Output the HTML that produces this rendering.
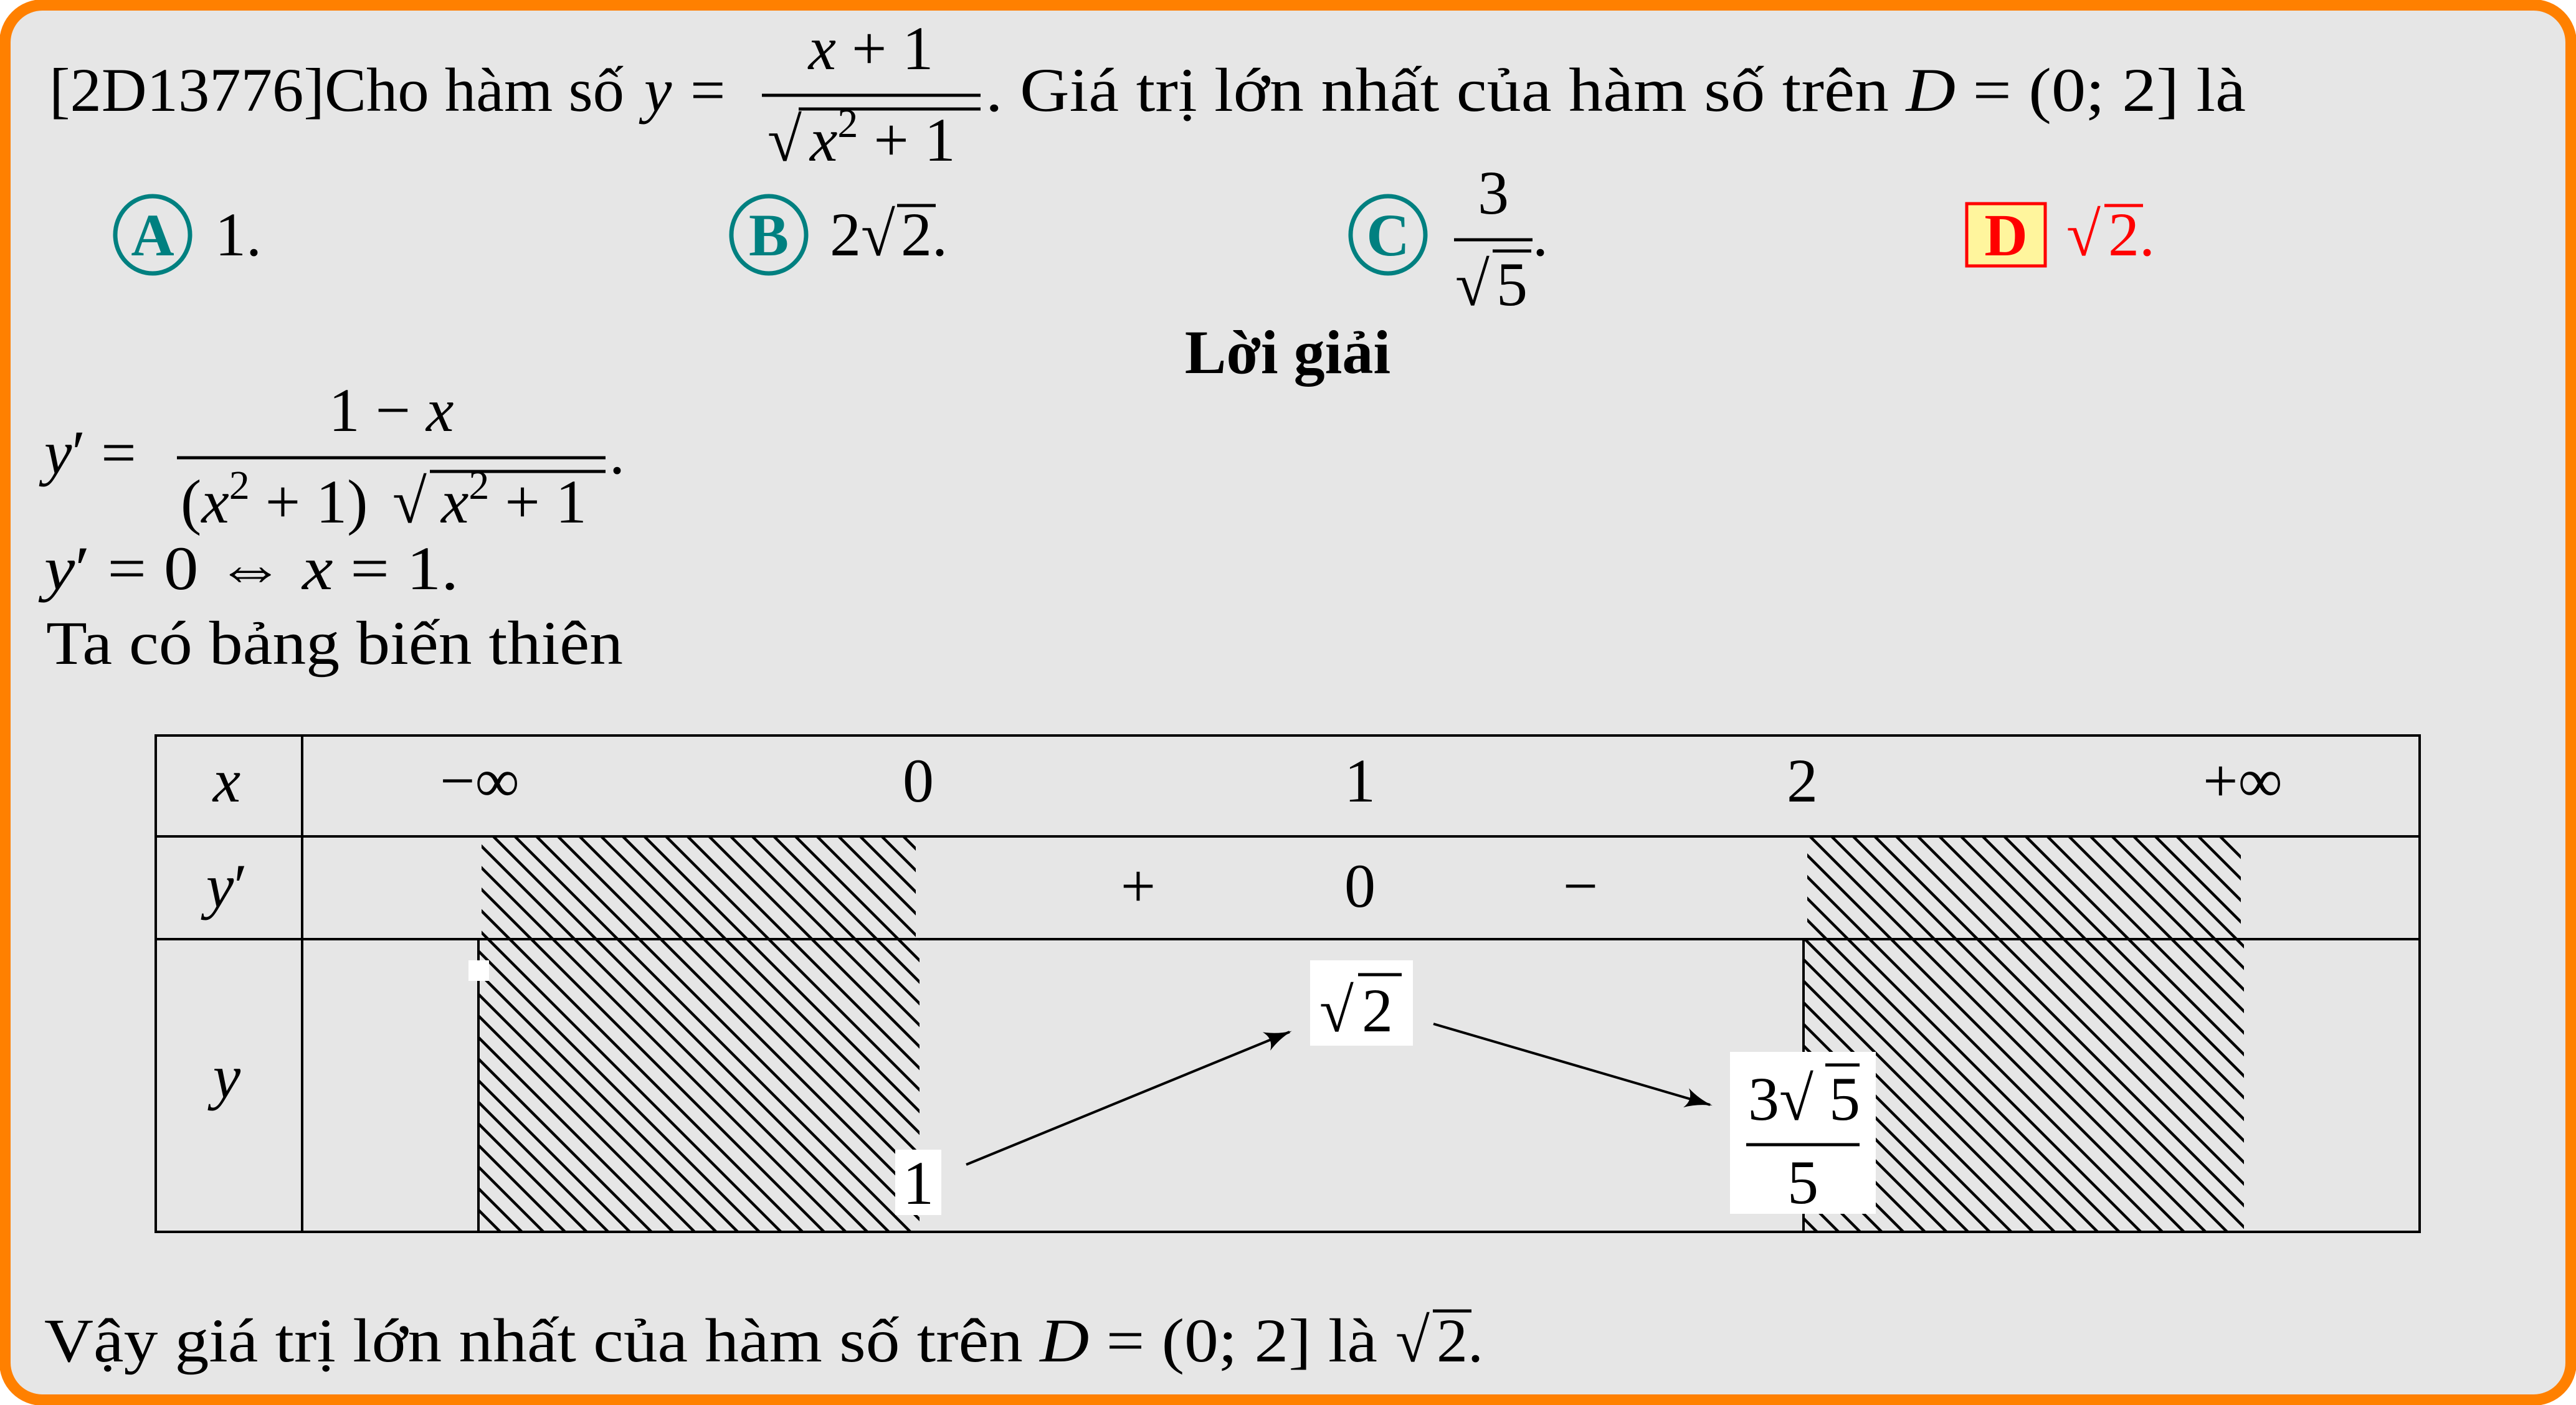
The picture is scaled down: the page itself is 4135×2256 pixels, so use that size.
<!DOCTYPE html>
<html><head><meta charset="utf-8"><style>
html,body{margin:0;padding:0;background:#fff;}
svg{display:block;}
text{font-family:"Liberation Serif",serif;fill:#000;}
.it{font-style:italic;}
</style></head><body>
<svg width="4135" height="2256" viewBox="0 0 4135 2256" xmlns="http://www.w3.org/2000/svg">
<defs>
<pattern id="hatch" patternUnits="userSpaceOnUse" width="24.5" height="24.5" patternTransform="rotate(-45)">
<rect width="24.5" height="24.5" fill="#e6e6e6"/>
<line x1="0" y1="0" x2="0" y2="24.5" stroke="#000" stroke-width="9"/>
</pattern>
<marker id="arr" markerWidth="44" markerHeight="36" refX="40" refY="18" orient="auto" markerUnits="userSpaceOnUse" viewBox="0 0 44 36">
<path d="M0,2 Q20,14 44,18 Q20,22 0,34 Q12,18 0,2 Z" fill="#000"/>
</marker>
</defs>
<rect x="8" y="8" width="4119" height="2240" rx="60" ry="60" fill="#e6e6e6" stroke="#ff8000" stroke-width="18"/>

<g font-size="100">
<text x="79" y="178" textLength="923" lengthAdjust="spacingAndGlyphs">[2D13776]Cho hàm số</text>
<text x="1034" y="178" class="it">y</text>
<text x="1108" y="178">=</text>
<text x="1398" y="111" text-anchor="middle"><tspan class="it">x</tspan> + 1</text>
<line x1="1223" y1="153" x2="1574" y2="153" stroke="#000" stroke-width="5"/>
<text x="1232" y="258">√</text>
<line x1="1282" y1="175" x2="1574" y2="175" stroke="#000" stroke-width="5"/>
<text x="1300" y="258"><tspan class="it">x</tspan><tspan font-size="66" dy="-38">2</tspan><tspan dy="38"> + 1</tspan></text>
<text x="1582" y="178" textLength="2023" lengthAdjust="spacingAndGlyphs">. Giá trị lớn nhất của hàm số trên <tspan class="it">D</tspan> = (0; 2] là</text>
</g>

<g>
<ellipse cx="245" cy="377" rx="60" ry="62" fill="none" stroke="#008080" stroke-width="7"/>
<text x="245" y="410" text-anchor="middle" font-size="96" font-weight="bold" style="fill:#008080">A</text>
<text x="345" y="410" font-size="100">1.</text>
</g>
<g>
<ellipse cx="1234" cy="377" rx="60" ry="62" fill="none" stroke="#008080" stroke-width="7"/>
<text x="1234" y="410" text-anchor="middle" font-size="96" font-weight="bold" style="fill:#008080">B</text>
<text x="1332" y="410" font-size="100">2√</text>
<line x1="1440" y1="330" x2="1502" y2="330" stroke="#000" stroke-width="5"/>
<text x="1446" y="410" font-size="100">2.</text>
</g>
<g>
<ellipse cx="2228" cy="377" rx="60" ry="62" fill="none" stroke="#008080" stroke-width="7"/>
<text x="2228" y="410" text-anchor="middle" font-size="96" font-weight="bold" style="fill:#008080">C</text>
<text x="2397" y="343" text-anchor="middle" font-size="100">3</text>
<line x1="2334" y1="385" x2="2460" y2="385" stroke="#000" stroke-width="5"/>
<text x="2336" y="490" font-size="100">√</text>
<line x1="2396" y1="403" x2="2458" y2="403" stroke="#000" stroke-width="5"/>
<text x="2402" y="490" font-size="100">5</text>
<text x="2460" y="410" font-size="100">.</text>
</g>
<g>
<rect x="3157" y="327" width="126" height="100" fill="#fff59d" stroke="#ff0000" stroke-width="5"/>
<text x="3220" y="410" text-anchor="middle" font-size="96" font-weight="bold" style="fill:#ff0000">D</text>
<text x="3317" y="410" font-size="100" style="fill:#ff0000">√</text>
<line x1="3378" y1="330" x2="3440" y2="330" stroke="#ff0000" stroke-width="5"/>
<text x="3384" y="410" font-size="100" style="fill:#ff0000">2.</text>
</g>

<text x="2067" y="599" text-anchor="middle" font-size="100" font-weight="bold">Lời giải</text>

<g font-size="100">
<text x="71" y="760"><tspan class="it">y</tspan>′ =</text>
<text x="628" y="692" text-anchor="middle">1 − <tspan class="it">x</tspan></text>
<line x1="284" y1="735" x2="972" y2="735" stroke="#000" stroke-width="5"/>
<text x="290" y="839">(<tspan class="it">x</tspan><tspan font-size="66" dy="-38">2</tspan><tspan dy="38"> + 1)</tspan></text>
<text x="630" y="839">√</text>
<line x1="690" y1="757" x2="972" y2="757" stroke="#000" stroke-width="5"/>
<text x="708" y="839"><tspan class="it">x</tspan><tspan font-size="66" dy="-38">2</tspan><tspan dy="38"> + 1</tspan></text>
<text x="978" y="760">.</text>
</g>
<text x="71" y="946" font-size="100" textLength="665" lengthAdjust="spacingAndGlyphs"><tspan class="it">y</tspan>′ = 0 ⇔ <tspan class="it">x</tspan> = 1.</text>
<text x="74" y="1066" font-size="100" textLength="926" lengthAdjust="spacingAndGlyphs">Ta có bảng biến thiên</text>

<g>
<rect x="773" y="1343" width="697" height="165" fill="url(#hatch)"/>
<rect x="2901" y="1343" width="696" height="165" fill="url(#hatch)"/>
<rect x="768" y="1508" width="708" height="470" fill="url(#hatch)"/>
<rect x="2895" y="1508" width="707" height="470" fill="url(#hatch)"/>
<line x1="768" y1="1508" x2="768" y2="1978" stroke="#000" stroke-width="4"/>
<line x1="2895" y1="1508" x2="2895" y2="1978" stroke="#000" stroke-width="4"/>
<rect x="250" y="1181" width="3634" height="797" fill="none" stroke="#000" stroke-width="4"/>
<line x1="250" y1="1343" x2="3884" y2="1343" stroke="#000" stroke-width="4"/>
<line x1="250" y1="1508" x2="3884" y2="1508" stroke="#000" stroke-width="4"/>
<line x1="485" y1="1181" x2="485" y2="1978" stroke="#000" stroke-width="4"/>
<g font-size="100" text-anchor="middle">
<text x="364" y="1287" class="it">x</text>
<text x="770" y="1287">−∞</text>
<text x="1474" y="1287">0</text>
<text x="2183" y="1287">1</text>
<text x="2893" y="1287">2</text>
<text x="3600" y="1287">+∞</text>
<text x="364" y="1456"><tspan class="it">y</tspan>′</text>
<text x="1827" y="1456">+</text>
<text x="2183" y="1456">0</text>
<text x="2537" y="1456">−</text>
<text x="364" y="1762" class="it">y</text>
</g>
<rect x="752" y="1542" width="33" height="33" fill="#fff"/>
<line x1="1551" y1="1870" x2="2070" y2="1657" stroke="#000" stroke-width="4" marker-end="url(#arr)"/>
<line x1="2301" y1="1644" x2="2745" y2="1774" stroke="#000" stroke-width="4" marker-end="url(#arr)"/>
<rect x="1437" y="1846" width="74" height="105" fill="#fff"/>
<text x="1474" y="1933" font-size="100" text-anchor="middle">1</text>
<rect x="2103" y="1542" width="165" height="137" fill="#fff"/>
<text x="2118" y="1656" font-size="100">√</text>
<line x1="2180" y1="1565" x2="2250" y2="1565" stroke="#000" stroke-width="5"/>
<text x="2186" y="1656" font-size="100">2</text>
<rect x="2777" y="1689" width="234" height="260" fill="#fff"/>
<text x="2806" y="1798" font-size="100">3√</text>
<line x1="2930" y1="1710" x2="2985" y2="1710" stroke="#000" stroke-width="5"/>
<text x="2936" y="1798" font-size="100">5</text>
<line x1="2803" y1="1838" x2="2985" y2="1838" stroke="#000" stroke-width="5"/>
<text x="2894" y="1932" font-size="100" text-anchor="middle">5</text>
</g>

<g font-size="100">
<text x="71" y="2186" textLength="2140" lengthAdjust="spacingAndGlyphs">Vậy giá trị lớn nhất của hàm số trên <tspan class="it">D</tspan> = (0; 2] là</text>
<text x="2240" y="2186">√</text>
<line x1="2300" y1="2105" x2="2362" y2="2105" stroke="#000" stroke-width="5"/>
<text x="2306" y="2186">2.</text>
</g>
</svg>
</body></html>
